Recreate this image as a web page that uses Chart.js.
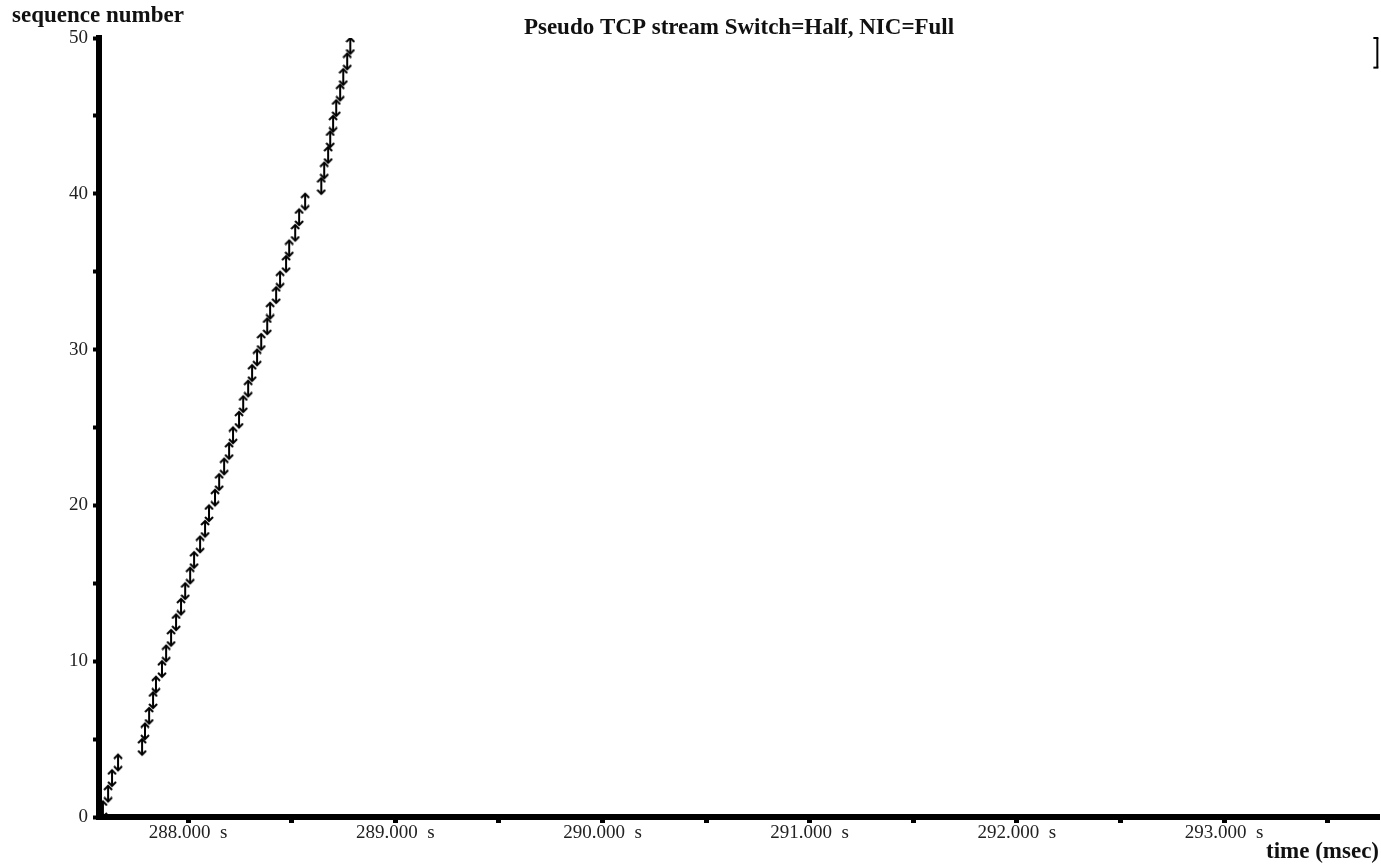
<!DOCTYPE html>
<html>
<head>
<meta charset="utf-8">
<title>Pseudo TCP stream</title>
<script src="https://cdn.jsdelivr.net/npm/chart.js"></script>
<style>
    body { margin: 0; background: #fff; }
    #contenedor { width: 1381px; height: 865px; }
</style>
</head>
<body>
<div id="contenedor"><canvas id="graficotcp"></canvas></div>
<script>
// time each segment was sent (s) and the sequence range it carries
const segTime = [287.589, 287.614, 287.633, 287.662,
    287.778, 287.792, 287.812, 287.831, 287.845, 287.874, 287.894, 287.918, 287.942, 287.966,
    287.986, 288.010, 288.029, 288.058, 288.082, 288.101, 288.130, 288.150, 288.174, 288.198,
    288.217, 288.246, 288.266, 288.290, 288.309, 288.333, 288.353, 288.382, 288.396, 288.425,
    288.444, 288.473, 288.488, 288.517, 288.536, 288.565,
    288.643, 288.657, 288.676, 288.686, 288.700, 288.715, 288.734, 288.749, 288.768, 288.783];
const segLow = [0, 1, 2, 3, 4, 5, 6, 7, 8, 9, 10, 11, 12, 13, 14, 15, 16, 17, 18, 19, 20, 21, 22, 23, 24,
    25, 26, 27, 28, 29, 30, 31, 32, 33, 34, 35, 36, 37, 38, 39, 40, 41, 42, 43, 44, 45, 46, 47, 48, 49];
const segHigh = [1, 2, 3, 4, 5, 6, 7, 8, 9, 10, 11, 12, 13, 14, 15, 16, 17, 18, 19, 20, 21, 22, 23, 24, 25,
    26, 27, 28, 29, 30, 31, 32, 33, 34, 35, 36, 37, 38, 39, 40, 41, 42, 43, 44, 45, 46, 47, 48, 49, 50];

// window bracket at the right edge
const winTime = [293.74];
const winLow = [48.1];
const winHigh = [50];

const xTickValues = [288, 288.5, 289, 289.5, 290, 290.5, 291, 291.5, 292, 292.5, 293, 293.5];
const xTickLabels = ['288.000  s', '', '289.000  s', '', '290.000  s', '', '291.000  s', '',
    '292.000  s', '', '293.000  s', ''];
const yTickValues = [0, 5, 10, 15, 20, 25, 30, 35, 40, 45, 50];
const yTickLabels = ['0', '', '10', '', '20', '', '30', '', '40', '', '50'];

const serif = "'Liberation Serif', 'Times New Roman', serif";

function flecha(dir) {
    const c = document.createElement('canvas');
    c.width = 10;
    c.height = 10;
    const g = c.getContext('2d');
    g.strokeStyle = '#000';
    g.lineWidth = 2;
    g.beginPath();
    if (dir === 'up') {
        g.moveTo(1, 9); g.lineTo(5, 5); g.lineTo(9, 9);
    } else {
        g.moveTo(1, 1); g.lineTo(5, 5); g.lineTo(9, 1);
    }
    g.stroke();
    return c;
}

function tapa() {
    const c = document.createElement('canvas');
    c.width = 10;
    c.height = 4;
    const g = c.getContext('2d');
    g.fillStyle = '#000';
    g.fillRect(1, 1, 5, 2);
    return c;
}

const lineas = [];
segTime.forEach((t, i) => {
    lineas.push({x: t, y: segLow[i]}, {x: t, y: segHigh[i]}, {x: t, y: null});
});

const ventana = [];
winTime.forEach((t, i) => {
    ventana.push({x: t, y: winLow[i]}, {x: t, y: winHigh[i]});
});

// y axis caption sits horizontally above the axis
const etiquetaY = {
    id: 'etiquetaY',
    afterDraw(chart) {
        const c = chart.ctx;
        c.save();
        c.font = 'bold 23px ' + serif;
        c.fillStyle = '#111';
        c.textBaseline = 'middle';
        c.textAlign = 'left';
        c.fillText('sequence number', 12, 16);
        c.restore();
    }
};

document.addEventListener('DOMContentLoaded', function() {
    const ctx = document.getElementById('graficotcp').getContext('2d');
    new Chart(ctx, {
        type: 'line',
        data: {
            datasets: [{
                data: lineas,
                borderColor: '#000',
                borderWidth: 2,
                pointRadius: 0,
                spanGaps: false
            },
            {
                data: segTime.map((t, i) => ({x: t, y: segHigh[i]})),
                showLine: false,
                pointStyle: flecha('up'),
                pointRadius: 3
            },
            {
                data: segTime.map((t, i) => ({x: t, y: segLow[i]})),
                showLine: false,
                pointStyle: flecha('down'),
                pointRadius: 3
            },
            {
                data: ventana,
                borderColor: '#000',
                borderWidth: 2,
                pointStyle: tapa(),
                pointRadius: 3,
                clip: false
            }]
        },
        options: {
            responsive: true,
            maintainAspectRatio: false,
            animation: false,
            layout: {
                autoPadding: false,
                padding: {left: 0, right: 2, top: 0, bottom: 0}
            },
            plugins: {
                legend: { display: false },
                tooltip: { enabled: false },
                title: {
                    display: true,
                    text: 'Pseudo TCP stream Switch=Half, NIC=Full',
                    fullSize: false,
                    color: '#111',
                    font: { family: serif, size: 23, weight: 'bold', lineHeight: 1 },
                    padding: { top: 17, bottom: -2 }
                }
            },
            scales: {
                x: {
                    type: 'linear',
                    min: 287.57,
                    max: 293.748,
                    afterFit: function(scale) { scale.height = 48; },
                    afterBuildTicks: function(scale) {
                        scale.ticks = xTickValues.map(v => ({value: v}));
                    },
                    ticks: {
                        autoSkip: false,
                        maxRotation: 0,
                        padding: 0,
                        color: '#222',
                        font: { family: serif, size: 19, lineHeight: 1.1 },
                        callback: (value, index) => xTickLabels[index]
                    },
                    grid: {
                        drawOnChartArea: false,
                        drawTicks: true,
                        tickLength: 6,
                        tickWidth: 5,
                        tickColor: '#000'
                    },
                    border: { display: true, color: '#000', width: 6 },
                    title: {
                        display: true,
                        text: 'time (msec)',
                        align: 'end',
                        color: '#111',
                        font: { family: serif, size: 23, weight: 'bold', lineHeight: 1 },
                        padding: { top: 0, bottom: 1 }
                    }
                },
                y: {
                    min: 0,
                    max: 50,
                    afterFit: function(scale) { scale.width = 99; },
                    afterBuildTicks: function(scale) {
                        scale.ticks = yTickValues.map(v => ({value: v}));
                    },
                    ticks: {
                        autoSkip: false,
                        padding: 5,
                        color: '#222',
                        font: { family: serif, size: 19 },
                        callback: (value, index) => yTickLabels[index]
                    },
                    grid: {
                        drawOnChartArea: false,
                        drawTicks: true,
                        tickLength: 6,
                        tickWidth: 4,
                        tickColor: '#000'
                    },
                    border: { display: true, color: '#000', width: 6 }
                }
            }
        },
        plugins: [etiquetaY]
    });
});
</script>
</body>
</html>
